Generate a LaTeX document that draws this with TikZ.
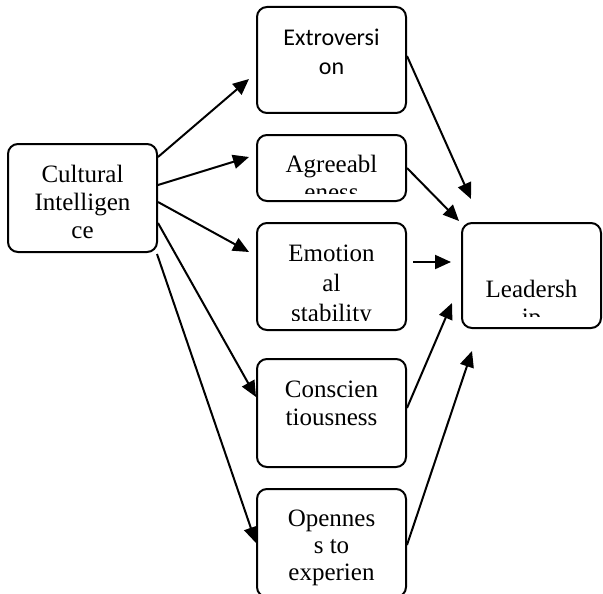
\documentclass[tikz,border=0pt]{standalone}
\usepackage{fontspec}
\setmainfont{Liberation Serif}
\newfontfamily\calibrifont{Carlito}
\usepackage{tikz}
\usetikzlibrary{arrows.meta, fit}
\newcommand{\boxfont}{\fontsize{25}{28}\selectfont}
\tikzset{
    arrow/.style={ -{Triangle[length=16pt, width=14pt]}, line width=2pt },
    % Rounded text box
    textbox/.style={ draw, line width=2pt, rounded corners=10pt, inner sep=0pt },
    % Text of a box, placed at the baseline of its last line
    boxtext/.style={ align=center, anchor=base, inner sep=0pt, font=\boxfont },
}

\begin{document}
\begin{tikzpicture}[x=1pt, y=-1pt]
    \useasboundingbox (0,0) rectangle (603,594);

    % Boxes
    \node[textbox, fit={(8,144) (157,252)}] (ci) {};
    \node[textbox, fit={(257,7) (406,113)}] (extro) {};
    \node[textbox, fit={(257,135) (406,201)}] (agree) {};
    \node[textbox, fit={(257,223) (406,330)}] (emo) {};
    \node[textbox, fit={(257,359) (406,467)}] (consc) {};
    \node[textbox, fit={(257,489) (406,597)}] (open) {};
    \node[textbox, fit={(462,223) (601,328)}] (lead) {};

    % Texts, cut off at the bottom of each box
    \begin{scope}
        \clip ([shift={(3pt,-3pt)}]ci.north west) rectangle ([shift={(-3pt,10pt)}]ci.south east);
        \node[boxtext] (ci-text) at (82.5,238) {Cultural\\Intelligen\\ce};
    \end{scope}
    \begin{scope}
        \clip ([shift={(3pt,-3pt)}]extro.north west) rectangle ([shift={(-3pt,10pt)}]extro.south east);
        \node[boxtext, font=\calibrifont\fontsize{24}{29}\selectfont] (extro-text) at (331.5,75) {Extroversi\\on};
    \end{scope}
    \begin{scope}
        \clip ([shift={(3pt,-3pt)}]agree.north west) rectangle ([shift={(-3pt,9pt)}]agree.south east);
        \node[boxtext] (agree-text) at (331.5,200) {Agreeabl\\eness};
    \end{scope}
    \begin{scope}
        \clip ([shift={(3pt,-3pt)}]emo.north west) rectangle ([shift={(-3pt,11pt)}]emo.south east);
        \node[boxtext, font=\fontsize{25}{30}\selectfont] (emo-text) at (331.5,321) {Emotion\\al\\stability};
    \end{scope}
    \begin{scope}
        \clip ([shift={(3pt,-3pt)}]consc.north west) rectangle ([shift={(-3pt,10pt)}]consc.south east);
        \node[boxtext] (consc-text) at (331.5,425) {Conscien\\tiousness};
    \end{scope}
    \begin{scope}
        \clip ([shift={(3pt,-3pt)}]open.north west) rectangle ([shift={(-3pt,13pt)}]open.south east);
        \node[boxtext, font=\fontsize{25}{27}\selectfont] (open-text) at (331.5,580) {Opennes\\s to\\experien};
    \end{scope}
    \begin{scope}
        \clip ([shift={(3pt,-3pt)}]lead.north west) rectangle ([shift={(-3pt,13pt)}]lead.south east);
        \node[boxtext] (lead-text) at (531.5,325) {Leadersh\\ip};
    \end{scope}

    % Cultural intelligence to the traits
    \draw[arrow] ([yshift=41pt]ci.east) to ([xshift=-7pt, yshift=-19pt]extro.west);
    \draw[arrow] ([yshift=13pt]ci.east) to ([xshift=-7pt, yshift=11pt]agree.west);
    \draw[arrow] ([yshift=-4pt]ci.east) to ([xshift=-7pt, yshift=24.5pt]emo.west);
    \draw[arrow] ([yshift=-25pt]ci.east) to ([yshift=16pt]consc.west);
    \draw[arrow] ([xshift=-1pt, yshift=-1pt]ci.south east) to (open.west);

    % Traits to leadership
    \draw[arrow] ([yshift=4pt]extro.east) to ([xshift=10pt, yshift=23pt]lead.north west);
    \draw[arrow] (agree.east) to ([xshift=-2pt, yshift=1pt]lead.north west);
    \draw[arrow] ([xshift=6pt, yshift=14.5pt]emo.east) to ([xshift=-10pt, yshift=13.5pt]lead.west);
    \draw[arrow] ([yshift=5pt]consc.east) to ([xshift=-9pt, yshift=-27.5pt]lead.west);
    \draw[arrow] ([yshift=-2pt]open.east) to ([xshift=11pt, yshift=-22pt]lead.south west);
\end{tikzpicture}
\end{document}
